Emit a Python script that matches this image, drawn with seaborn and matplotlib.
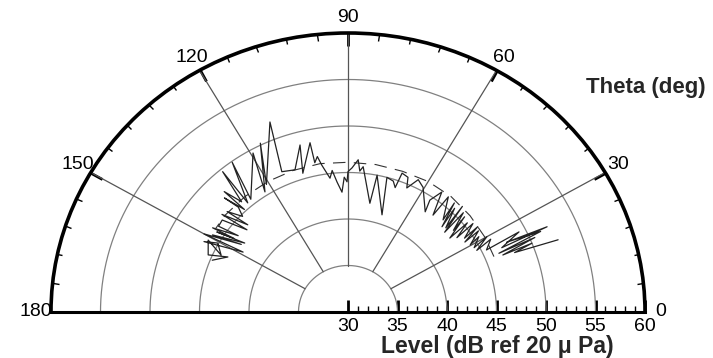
import numpy as np
import pandas as pd
import matplotlib
matplotlib.use("Agg")
import matplotlib.pyplot as plt
import seaborn as sns

# Measured directivity: polar angle (deg) and sound level (dB), in recording order
theta_measured = [
    157.9, 154.0, 156.5, 151.3, 154.5, 150.6, 152.5, 148.7, 150.0, 146.0,
    148.8, 144.6, 147.0, 145.5, 146.5, 143.5, 144.8, 142.1, 139.1, 140.5,
    137.2, 138.5, 136.0, 134.5, 135.5, 133.5, 134.0, 132.2, 130.0, 130.8,
    126.0, 129.0, 119.3, 123.0, 116.0, 121.0, 111.1, 113.9, 109.3, 105.1,
    107.0, 101.9, 101.8, 100.5, 99.5, 97.2, 96.0, 94.5, 92.7, 91.5,
    90.4, 90.0, 88.5, 86.4, 85.5, 84.4, 79.3, 78.7, 71.8, 74.8,
    72.0, 70.4, 69.9, 67.3, 66.0, 63.5, 60.5, 54.1, 55.5, 53.7,
    50.5, 50.7, 45.9, 47.5, 44.0, 46.0, 42.5, 44.5, 41.3, 42.5,
    39.5, 41.0, 37.7, 38.5, 36.0, 37.0, 34.0, 35.0, 32.5, 33.5,
    30.3, 31.5, 28.5, 30.0, 27.0, 28.5, 25.5, 26.5, 24.0, 24.5,
    25.1, 24.0, 22.5, 23.0, 21.4, 21.7, 20.8, 20.1,
]
level_measured = [
    44.8, 43.5, 45.4, 46.1, 44.2, 45.1, 46.4, 42.4, 46.8, 43.0,
    46.0, 42.8, 45.8, 44.0, 46.4, 43.8, 46.0, 46.1, 43.5, 46.5,
    43.8, 46.3, 44.8, 45.8, 47.5, 45.2, 48.0, 46.0, 49.7, 45.5,
    49.9, 45.6, 49.6, 45.4, 50.2, 46.0, 51.9, 46.5, 46.2, 48.6,
    45.6, 48.6, 46.4, 47.0, 46.0, 44.5, 45.3, 44.0, 42.9, 44.5,
    44.0, 45.1, 45.5, 46.4, 45.2, 45.7, 41.9, 45.0, 41.0, 45.0,
    44.8, 44.2, 45.9, 45.7, 44.6, 45.9, 45.4, 43.3, 44.6, 46.0,
    43.5, 46.0, 43.8, 45.9, 43.2, 45.5, 43.4, 46.2, 43.0, 45.8,
    43.8, 45.6, 43.0, 45.4, 43.6, 45.8, 44.2, 46.0, 44.0, 45.8,
    44.3, 45.5, 44.5, 46.2, 44.6, 46.4, 45.5, 49.3, 47.0, 52.1,
    47.7, 51.3, 46.5, 50.5, 46.8, 50.0, 48.0, 52.6,
]

# Predicted directivity (dashed)
theta_predicted = [22, 30, 40, 50, 60, 70, 80, 90, 100, 110, 120, 130, 140, 146]
level_predicted = [45.9, 46.0, 46.1, 46.2, 46.2, 46.1, 46.1, 46.1, 46.2, 46.2, 46.2, 46.2, 46.2, 46.1]

theta_ticks = [0, 30, 60, 90, 120, 150, 180]
level_ticks = [30, 35, 40, 45, 50, 55, 60]
level_rings = [35, 40, 45, 50, 55]

sns.set_style("white")
plt.rcParams['font.family'] = ['Liberation Sans', 'DejaVu Sans']
plt.rcParams['lines.scale_dashes'] = False

W, H = 713, 358
cx, cy = 348, 312          # centre of the half disk (px, from top)
rx, ry = 297, 279          # horizontal / vertical radius (px)

fig = plt.figure(figsize=(W / 100, H / 100), dpi=100)
ax = fig.add_axes([(cx - rx) / W, ((H - cy) - ry / 2) / H, 2 * rx / W, 2 * ry / H],
                  projection='polar')
ax.set_thetamin(0)
ax.set_thetamax(180)
ax.set_rlim(level_ticks[0], level_ticks[-1])
ax.set_aspect('auto')
ax.set_facecolor('white')

# rings and spokes
ax.xaxis.grid(False)
ax.yaxis.grid(False)
ring_t = np.linspace(0, np.pi, 400)
for lv in level_rings:
    ax.plot(ring_t, np.full_like(ring_t, lv), color='#808080', lw=0.9, zorder=1)
for t in theta_ticks[1:-1]:
    ax.plot([np.deg2rad(t)] * 2, [level_rings[0], level_ticks[-1]],
            color='#555555', lw=0.9, zorder=1)

df_m = pd.DataFrame({'theta': np.deg2rad(theta_measured), 'level': level_measured})
df_p = pd.DataFrame({'theta': np.deg2rad(theta_predicted), 'level': level_predicted})
sns.lineplot(data=df_p, x='theta', y='level', ax=ax, sort=False, estimator=None,
             color='#333333', lw=0.8, zorder=3)
ax.lines[-1].set_dashes((9, 6))
sns.lineplot(data=df_m, x='theta', y='level', ax=ax, sort=False, estimator=None,
             color='#222222', lw=0.9, zorder=4)
ax.set_xlabel('')
ax.set_ylabel('')
ax.set_rlim(level_ticks[0], level_ticks[-1])

# angular axis: ticks on the outer arc only
ax.set_xticks(np.deg2rad(theta_ticks))
ax.set_xticklabels([str(t) for t in theta_ticks])
ax.set_xticks(np.deg2rad(np.arange(0, 181, 6)), minor=True)
ax.tick_params(axis='x', which='both', bottom=False, top=True, direction='in')
ax.tick_params(axis='x', which='major', length=9, width=2,
               labelsize=14, pad=4, colors='black')
ax.tick_params(axis='x', which='minor', length=4, width=1, colors='black')

# radial axis along the 0-degree edge
ax.set_yticks(level_ticks)
ax.set_yticklabels([str(v) for v in level_ticks])
ax.set_yticks(np.arange(30, 61, 1), minor=True)
ax.tick_params(axis='y', which='both', left=True, right=False, labelleft=True,
               labelright=False, direction='in')
ax.tick_params(axis='y', which='major', length=9, width=2,
               labelsize=14, pad=4, colors='black')
ax.tick_params(axis='y', which='minor', length=4, width=1, colors='black')

ax.spines['polar'].set_linewidth(2.6)
ax.spines['polar'].set_color('black')
for s in ('start', 'end'):
    ax.spines[s].set_linewidth(2.2)
    ax.spines[s].set_color('black')
ax.spines['inner'].set_visible(False)

fig.text(646 / W, 1 - 88 / H, 'Theta (deg)', ha='center', va='center',
         fontsize=16, fontweight='bold')
fig.text(497 / W, 1 - 347 / H, 'Level (dB ref 20 \u03bc Pa)', ha='center', va='center',
         fontsize=16.5, fontweight='bold')

fig.savefig('out.png', dpi=100, facecolor='white')
